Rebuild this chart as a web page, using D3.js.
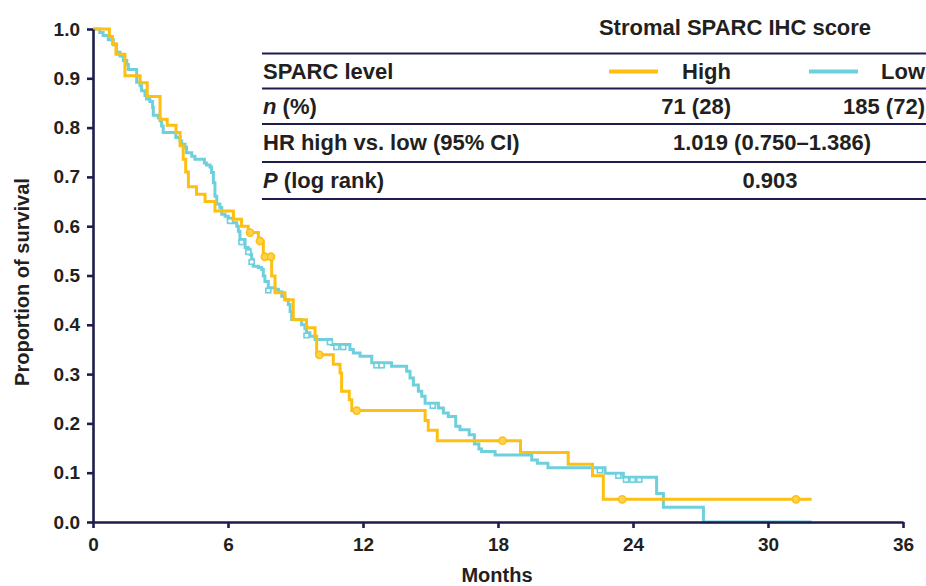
<!DOCTYPE html>
<html><head><meta charset="utf-8">
<script src="https://cdn.jsdelivr.net/npm/d3@7"></script>
<style>
html,body{margin:0;padding:0;background:#fff;}
svg text{font-family:"Liberation Sans",Arial,Helvetica,sans-serif;font-weight:bold;fill:#231f20;}
</style></head>
<body>
<svg id="c" width="926" height="586"></svg>
<script>
// ---- data ----
const xTicks = [0, 6, 12, 18, 24, 30, 36];
const yTicks = [0, 0.1, 0.2, 0.3, 0.4, 0.5, 0.6, 0.7, 0.8, 0.9, 1.0];

// High SPARC (yellow): step times (months) and survival after step
const highTimes = [0, 0.73, 0.87, 1.02, 1.42, 2.09, 2.41, 2.98, 3.30, 3.69, 3.87, 4.01, 4.12, 4.24, 4.6, 4.98, 5.42, 6.24, 6.6, 6.9, 7.35, 7.57, 7.94, 8.09, 8.53, 8.9, 9.49, 9.87, 9.94, 10.68, 10.98, 11.05, 11.39, 11.5, 14.76, 14.9, 15.3, 19.0, 21.12, 22.2, 22.68];
const highSurv  = [1.0, 0.985, 0.97, 0.949, 0.905, 0.891, 0.863, 0.817, 0.805, 0.79, 0.763, 0.736, 0.71, 0.68, 0.665, 0.65, 0.631, 0.614, 0.6, 0.587, 0.57, 0.538, 0.499, 0.465, 0.451, 0.41, 0.394, 0.377, 0.339, 0.32, 0.302, 0.265, 0.248, 0.226, 0.206, 0.186, 0.165, 0.141, 0.117, 0.094, 0.046];
const highCensor = [6.98, 7.42, 7.64, 7.91, 10.06, 11.72, 18.2, 23.52, 31.24];
const highEnd = 31.94;

// Low SPARC (cyan)
const lowTimes = [0, 0.3, 0.45, 0.68, 0.9, 1.05, 1.2, 1.35, 1.5, 1.57, 1.94, 2.09, 2.16, 2.31, 2.38, 2.53, 2.65, 2.68, 2.9, 2.98, 3.05, 3.12, 3.68, 3.87, 3.94, 4.09, 4.16, 4.39, 4.53, 4.95, 5.04, 5.2, 5.27, 5.35, 5.42, 5.5, 5.64, 5.72, 5.87, 6.01, 6.16, 6.39, 6.46, 6.53, 6.76, 6.9, 6.98, 7.05, 7.12, 7.35, 7.5, 7.57, 7.64, 7.79, 8.09, 8.24, 8.39, 8.53, 8.68, 8.76, 8.83, 9.27, 9.42, 9.49, 9.64, 9.87, 10.6, 11.42, 11.57, 11.87, 12.39, 13.27, 13.94, 14.09, 14.24, 14.46, 14.61, 14.76, 15.35, 15.57, 15.79, 16.12, 16.31, 16.72, 16.95, 17.15, 17.27, 17.87, 19.5, 19.75, 20.22, 22.76, 23.57, 25.05, 25.35, 27.13];
const lowSurv  = [1.0, 0.993, 0.987, 0.978, 0.968, 0.953, 0.945, 0.936, 0.928, 0.918, 0.892, 0.885, 0.875, 0.865, 0.858, 0.853, 0.841, 0.825, 0.82, 0.814, 0.803, 0.79, 0.78, 0.773, 0.766, 0.76, 0.749, 0.742, 0.736, 0.728, 0.724, 0.72, 0.709, 0.688, 0.661, 0.645, 0.638, 0.624, 0.62, 0.616, 0.607, 0.6, 0.59, 0.573, 0.557, 0.553, 0.543, 0.533, 0.519, 0.516, 0.512, 0.499, 0.488, 0.475, 0.472, 0.467, 0.458, 0.451, 0.441, 0.427, 0.411, 0.4, 0.392, 0.384, 0.377, 0.37, 0.36, 0.35, 0.343, 0.336, 0.323, 0.316, 0.306, 0.292, 0.278, 0.265, 0.255, 0.241, 0.231, 0.221, 0.214, 0.194, 0.187, 0.177, 0.158, 0.148, 0.143, 0.136, 0.126, 0.119, 0.11, 0.099, 0.091, 0.058, 0.03, 0.0];
const lowCensor = [6.09, 6.6, 6.9, 7.05, 7.79, 9.49, 10.53, 10.82, 11.12, 12.6, 12.83, 15.1, 22.53, 23.35, 23.69, 23.98, 24.28];
const lowEnd = 31.94;

const tableTitle = "Stromal SPARC IHC score";
const rowLabels = ["SPARC level", "n", "HR high vs. low (95% CI)", "P"];
const groupNames = ["High", "Low"];
const nValues = ["71 (28)", "185 (72)"];
const hrValue = "1.019 (0.750\u20131.386)";
const pValue = "0.903";

// ---- drawing ----
const YELLOW = "#FDC012", CYAN = "#6ECFDD", NAVY = "#1d1c4d";
const svg = d3.select("#c");
const x = d3.scaleLinear().domain([0, 36]).range([93, 903]);
const y = d3.scaleLinear().domain([0, 1]).range([522, 29]);

function survAt(times, surv, t) {
  let s = surv[0];
  for (let i = 0; i < times.length; i++) if (times[i] <= t) s = surv[i];
  return s;
}
function stepPts(times, surv, end) {
  const p = times.map((t, i) => [t, surv[i]]);
  p.push([end, surv[surv.length - 1]]);
  return p;
}
const line = d3.line().x(d => x(d[0])).y(d => y(d[1])).curve(d3.curveStepAfter);

// curves
const gLow = svg.append("g");
gLow.append("path").datum(stepPts(lowTimes, lowSurv, lowEnd)).attr("d", line)
  .attr("fill", "none").attr("stroke", CYAN).attr("stroke-width", 3);
gLow.selectAll("rect").data(lowCensor).join("rect")
  .attr("x", d => x(d) - 2.5).attr("y", d => y(survAt(lowTimes, lowSurv, d)) + 0.5)
  .attr("width", 5).attr("height", 4.5)
  .attr("fill", "#fff").attr("stroke", CYAN).attr("stroke-width", 1.6);

const gHigh = svg.append("g");
gHigh.append("path").datum(stepPts(highTimes, highSurv, highEnd)).attr("d", line)
  .attr("fill", "none").attr("stroke", YELLOW).attr("stroke-width", 3);
gHigh.selectAll("circle").data(highCensor).join("circle")
  .attr("cx", d => x(d)).attr("cy", d => y(survAt(highTimes, highSurv, d)))
  .attr("r", 3.6).attr("fill", "#FFD24F").attr("stroke", YELLOW).attr("stroke-width", 1.6);

// axes
const ax = svg.append("g").attr("transform", "translate(0,522)")
  .call(d3.axisBottom(x).tickValues(xTicks).tickSize(6).tickSizeOuter(0).tickPadding(10));
const ay = svg.append("g").attr("transform", "translate(93,0)")
  .call(d3.axisLeft(y).tickValues(yTicks).tickFormat(d3.format(".1f")).tickSize(6).tickSizeOuter(0).tickPadding(7));
[ax, ay].forEach(g => {
  g.select(".domain").attr("stroke", NAVY).attr("stroke-width", 2.6);
  g.selectAll(".tick line").attr("stroke", NAVY).attr("stroke-width", 2.6);
  g.selectAll(".tick text").style("font-size", "19px").attr("fill", "#231f20");
});

svg.append("text").attr("x", 497).attr("y", 582).attr("text-anchor", "middle")
  .style("font-size", "20px").text("Months");
svg.append("text").attr("transform", "translate(28.5,282) rotate(-90)").attr("text-anchor", "middle")
  .style("font-size", "20px").text("Proportion of survival");

// table / legend
const tbl = svg.append("g");
tbl.append("text").attr("x", 735).attr("y", 34.5).attr("text-anchor", "middle")
  .style("font-size", "22px").text(tableTitle);
[53.5, 88.5, 124, 162, 199].forEach(ly => {
  tbl.append("line").attr("x1", 262).attr("x2", 926).attr("y1", ly).attr("y2", ly)
    .attr("stroke", NAVY).attr("stroke-width", 2);
});
const baselines = [79, 114, 150, 188];
const fs = "22px";
tbl.append("text").attr("x", 263).attr("y", baselines[0]).style("font-size", fs).text(rowLabels[0]);
const t1 = tbl.append("text").attr("x", 263).attr("y", baselines[1]).style("font-size", fs);
t1.append("tspan").style("font-style", "italic").text(rowLabels[1]);
t1.append("tspan").text(" (%)");
tbl.append("text").attr("x", 263).attr("y", baselines[2]).style("font-size", fs).text(rowLabels[2]);
const t3 = tbl.append("text").attr("x", 263).attr("y", baselines[3]).style("font-size", fs);
t3.append("tspan").style("font-style", "italic").text(rowLabels[3]);
t3.append("tspan").text(" (log rank)");

// legend entries
const legX = [[609, 658, 731], [809, 858, 925]];
[YELLOW, CYAN].forEach((c, i) => {
  tbl.append("line").attr("x1", legX[i][0]).attr("x2", legX[i][1]).attr("y1", 71.5).attr("y2", 71.5)
    .attr("stroke", c).attr("stroke-width", 4);
  tbl.append("text").attr("x", legX[i][2]).attr("y", baselines[0]).attr("text-anchor", "end")
    .style("font-size", fs).text(groupNames[i]);
  tbl.append("text").attr("x", legX[i][2]).attr("y", baselines[1]).attr("text-anchor", "end")
    .style("font-size", fs).text(nValues[i]);
});
tbl.append("text").attr("x", 772).attr("y", baselines[2]).attr("text-anchor", "middle").style("font-size", fs).text(hrValue);
tbl.append("text").attr("x", 770).attr("y", baselines[3]).attr("text-anchor", "middle").style("font-size", fs).text(pValue);
</script>
</body></html>
